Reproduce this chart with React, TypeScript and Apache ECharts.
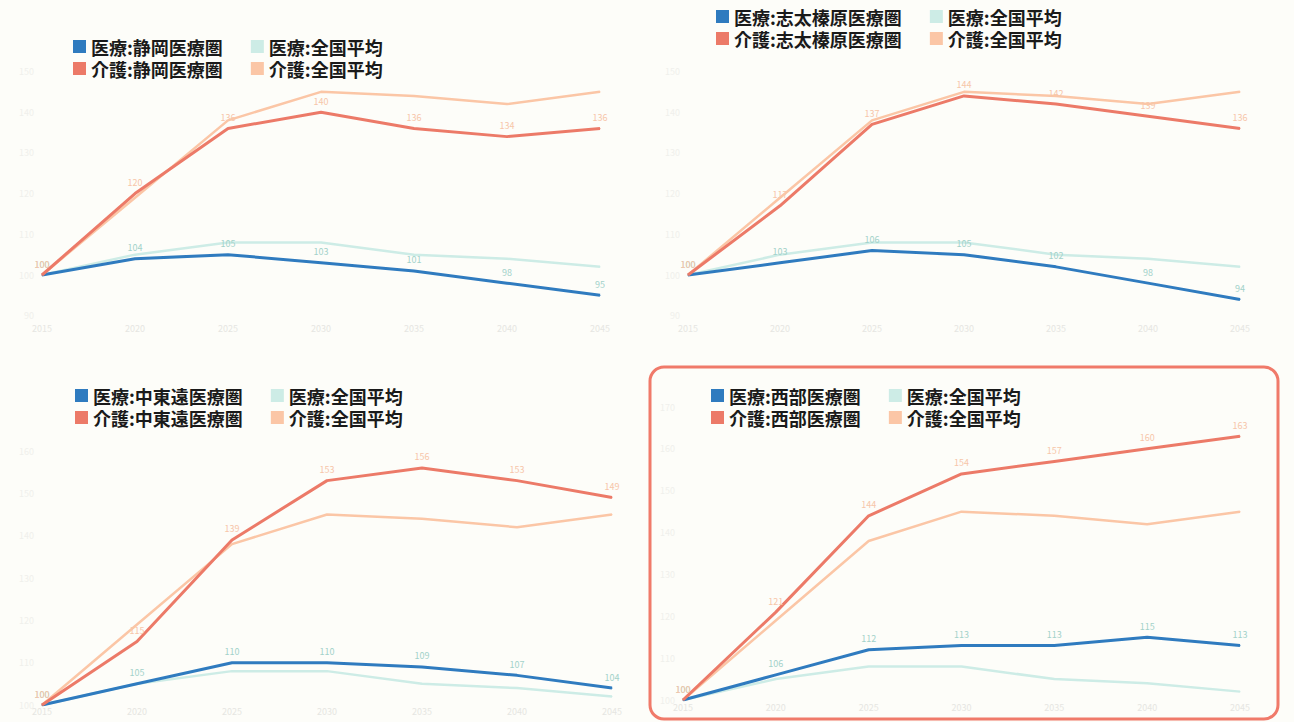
import React, { useEffect, useRef } from "react";
import * as echarts from "echarts";

const years = ["2015", "2020", "2025", "2030", "2035", "2040", "2045"];
const natMed = [100, 105, 108, 108, 105, 104, 102];
const natCare = [100, 119, 138, 145, 144, 142, 145];
const shizuokaMed = [100, 104, 105, 103, 101, 98, 95];
const shizuokaCare = [100, 120, 136, 140, 136, 134, 136];
const shidaMed = [100, 103, 106, 105, 102, 98, 94];
const shidaCare = [100, 117, 137, 144, 142, 139, 136];
const chutoenMed = [100, 105, 110, 110, 109, 107, 104];
const chutoenCare = [100, 115, 139, 153, 156, 153, 149];
const seibuMed = [100, 106, 112, 113, 113, 115, 113];
const seibuCare = [100, 121, 144, 154, 157, 160, 163];

const regions = ["静岡医療圏", "志太榛原医療圏", "中東遠医療圏", "西部医療圏"];
const natMedName = "医療:全国平均";
const natCareName = "介護:全国平均";

const C_MED = "#2f7bbf";
const C_NATMED = "#cdece6";
const C_CARE = "#ec7a68";
const C_NATCARE = "#fbc6a6";
const FONT = "'Noto Sans CJK JP', 'Noto Sans', sans-serif";

type Panel = {
  left: number; top: number; region: string; med: number[]; care: number[];
  grid: { left: number; right: number; top: number; bottom: number };
  yMin: number; yMax: number; legendLeft: number; legendTop: number; labelMargin: number; frame?: boolean;
};

const panels: Panel[] = [
  { left: 0, top: 0, region: regions[0], med: shizuokaMed, care: shizuokaCare,
    grid: { left: 42, right: 47, top: 71.5, bottom: 45.3 }, yMin: 90, yMax: 150, legendLeft: 73, legendTop: 37, labelMargin: 8 },
  { left: 647, top: 0, region: regions[1], med: shidaMed, care: shidaCare,
    grid: { left: 41, right: 54, top: 71.5, bottom: 45.3 }, yMin: 90, yMax: 150, legendLeft: 69, legendTop: 7, labelMargin: 8 },
  { left: 0, top: 361, region: regions[2], med: chutoenMed, care: chutoenCare,
    grid: { left: 42, right: 35, top: 90, bottom: 17 }, yMin: 100, yMax: 160, legendLeft: 75, legendTop: 25, labelMargin: 2 },
  { left: 647, top: 361, region: regions[3], med: seibuMed, care: seibuCare,
    grid: { left: 36, right: 54, top: 46, bottom: 22 }, yMin: 100, yMax: 170, legendLeft: 64, legendTop: 25, labelMargin: 3, frame: true },
];

function lineSeries(name: string, data: number[], color: string, width: number, z: number, labelColor?: string) {
  return {
    type: "line", name, data, z,
    symbol: "circle", symbolSize: 1, showSymbol: true,
    lineStyle: { color, width },
    itemStyle: { color },
    label: labelColor
      ? { show: true, position: "top", distance: 6, fontSize: 9, color: labelColor, fontFamily: FONT }
      : { show: false },
    emphasis: { disabled: true },
  };
}

function buildOption(p: Panel) {
  const medName = "医療:" + p.region;
  const careName = "介護:" + p.region;
  const legendBase = {
    left: p.legendLeft, itemWidth: 13, itemHeight: 13, itemGap: 28, icon: "rect", padding: 0,
    textStyle: { fontSize: 18, lineHeight: 19, fontWeight: "bold", color: "#1a1a1a", fontFamily: FONT },
    selectedMode: false,
  };
  return {
    animation: false,
    legend: [
      { ...legendBase, top: p.legendTop, data: [medName, natMedName] },
      { ...legendBase, top: p.legendTop + 22, data: [careName, natCareName] },
    ],
    grid: { ...p.grid },
    xAxis: {
      type: "category", data: years, boundaryGap: false,
      axisLine: { show: false }, axisTick: { show: false },
      axisLabel: { color: "#e6e6e2", fontSize: 9, fontFamily: FONT, margin: p.labelMargin },
    },
    yAxis: {
      type: "value", min: p.yMin, max: p.yMax, interval: 10,
      axisLine: { show: false }, axisTick: { show: false }, splitLine: { show: false },
      axisLabel: { color: "#f0f0ec", fontSize: 9, fontFamily: FONT },
    },
    graphic: p.frame
      ? [{ type: "rect", shape: { x: 3, y: 6, width: 628, height: 352, r: 14 },
          style: { fill: "none", stroke: "#f07a6a", lineWidth: 3 }, silent: true }]
      : [],
    series: [
      lineSeries(natMedName, natMed, C_NATMED, 2.5, 1),
      lineSeries(natCareName, natCare, C_NATCARE, 2.5, 2),
      lineSeries(medName, p.med, C_MED, 3, 3, "#a3d2ca"),
      lineSeries(careName, p.care, C_CARE, 3, 4, "#f7c6a9"),
    ],
  };
}

function ChartPanel({ p }: { p: Panel }) {
  const ref = useRef<HTMLDivElement>(null);
  useEffect(() => {
    if (!ref.current) return;
    const chart = echarts.init(ref.current, null, { renderer: "svg" });
    chart.setOption(buildOption(p) as any);
    return () => chart.dispose();
  }, [p]);
  return (
    <div ref={ref}
      style={{ position: "absolute", left: p.left, top: p.top, width: 647, height: 361 }} />
  );
}

export default function App() {
  return (
    <div style={{ position: "fixed", left: 0, top: 0, width: 1294, height: 722, background: "#fdfdf9", overflow: "hidden" }}>
      {panels.map((p, i) => <ChartPanel key={i} p={p} />)}
    </div>
  );
}
